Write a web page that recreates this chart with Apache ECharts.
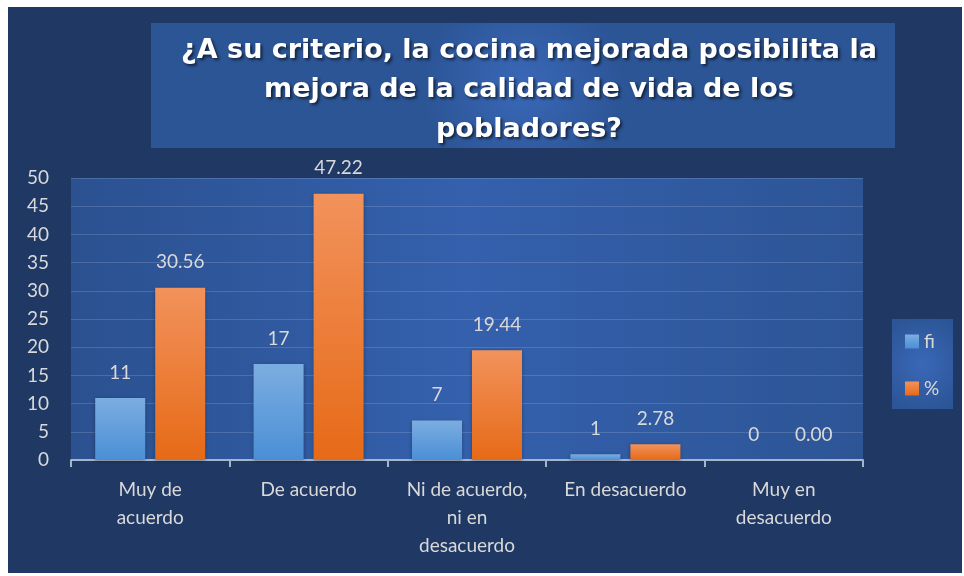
<!DOCTYPE html>
<html lang="es">
<head>
<meta charset="UTF-8">
<title>Cocina mejorada</title>
<script src="https://cdn.jsdelivr.net/npm/echarts@6/dist/echarts.min.js"></script>
<style>
  html,body{margin:0;padding:0;background:#fff;}
  #main{width:964px;height:576px;}
</style>
</head>
<body>
<div id="main"></div>
<script>
var categorias = ['Muy de\nacuerdo', 'De acuerdo', 'Ni de acuerdo,\nni en\ndesacuerdo', 'En desacuerdo', 'Muy en\ndesacuerdo'];
var fi = [11, 17, 7, 1, 0];
var porcentaje = [30.56, 47.22, 19.44, 2.78, 0.00];
var ticksY = [0, 5, 10, 15, 20, 25, 30, 35, 40, 45, 50];

var fuente = 'Lato';
var gris = '#d9d9d9';

var myChart = echarts.init(document.getElementById('main'));
var option = {
  backgroundColor: '#ffffff',
  graphic: [
    // fondo azul oscuro
    {type: 'rect', z: -10, shape: {x: 8, y: 7, width: 954, height: 566}, style: {fill: '#203864'}},
    // caja del titulo
    {type: 'rect', z: -5, shape: {x: 151, y: 23, width: 744, height: 125},
      style: {fill: new echarts.graphic.RadialGradient(0.5, 0.5, 0.8, [
        {offset: 0, color: '#3a68b8'}, {offset: 1, color: '#2c5596'}])}},
    // caja de la leyenda
    {type: 'rect', z: -5, shape: {x: 892, y: 319, width: 61, height: 90},
      style: {fill: new echarts.graphic.RadialGradient(0.5, 0.5, 0.8, [
        {offset: 0, color: '#3a68b8'}, {offset: 1, color: '#2c5596'}])}}
  ],
  title: {
    text: '¿A su criterio, la cocina mejorada posibilita la\nmejora de la calidad de vida de los\npobladores?',
    left: 524, top: 26, textAlign: 'center',
    textStyle: {
      color: '#ffffff', fontFamily: 'DejaVu Sans', fontWeight: 'bold', fontSize: 27,
      lineHeight: 39.5, textShadowColor: 'rgba(0,0,0,0.6)', textShadowBlur: 3,
      textShadowOffsetX: 2, textShadowOffsetY: 2
    }
  },
  legend: {
    data: ['fi', '%'],
    orient: 'vertical', left: 900, top: 327,
    itemWidth: 14, itemHeight: 14, itemGap: 28, icon: 'rect',
    textStyle: {color: gris, fontFamily: fuente, fontSize: 19}
  },
  grid: {
    left: 71, right: 101, top: 178, bottom: 116, show: true,
    borderWidth: 0,
    backgroundColor: new echarts.graphic.LinearGradient(0, 0, 1, 0, [
      {offset: 0, color: '#2b5190'}, {offset: 0.5, color: '#3460ad'}, {offset: 1, color: '#2d5596'}])
  },
  xAxis: {
    type: 'category', data: categorias,
    axisLine: {lineStyle: {color: '#a6b4cc', width: 2}},
    axisTick: {show: true, length: 7, lineStyle: {color: '#a6b4cc', width: 2}},
    axisLabel: {color: gris, fontFamily: fuente, fontSize: 19, lineHeight: 28, margin: 16, interval: 0}
  },
  yAxis: {
    type: 'value', min: ticksY[0], max: ticksY[ticksY.length - 1], interval: 5,
    axisLine: {show: false}, axisTick: {show: false},
    axisLabel: {color: gris, fontFamily: fuente, fontSize: 19, margin: 22, align: 'right'},
    splitLine: {lineStyle: {color: 'rgba(255,255,255,0.15)', width: 1}}
  },
  series: [
    {
      name: 'fi', type: 'bar', data: fi, barWidth: 50, barGap: '20%',
      itemStyle: {
        color: new echarts.graphic.LinearGradient(0, 0, 0, 1, [
          {offset: 0, color: '#7cade0'}, {offset: 1, color: '#4a8fd6'}]),
        shadowColor: 'rgba(0,0,0,0.3)', shadowBlur: 4, shadowOffsetY: 1
      },
      label: {show: true, position: 'top', distance: 16, color: gris, fontFamily: fuente, fontSize: 19}
    },
    {
      name: '%', type: 'bar', data: porcentaje, barWidth: 50,
      itemStyle: {
        color: new echarts.graphic.LinearGradient(0, 0, 0, 1, [
          {offset: 0, color: '#f2925c'}, {offset: 1, color: '#e66a17'}]),
        shadowColor: 'rgba(0,0,0,0.3)', shadowBlur: 4, shadowOffsetY: 1
      },
      label: {show: true, position: 'top', distance: 16, color: gris, fontFamily: fuente, fontSize: 19,
        formatter: function (p) { return p.value.toFixed(2); }}
    }
  ]
};
myChart.setOption(option);
</script>
</body>
</html>
